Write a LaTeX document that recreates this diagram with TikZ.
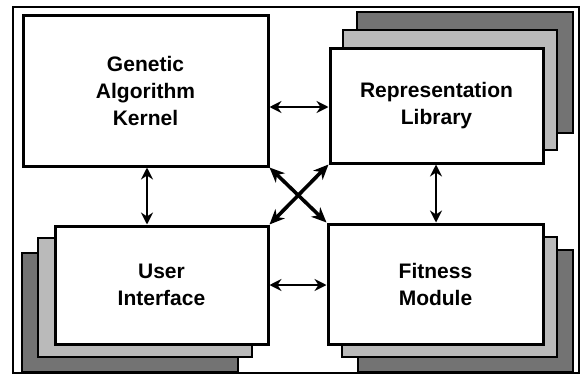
\documentclass[tikz,border=0pt]{standalone}
\usepackage{fontspec}
\setmainfont{Liberation Sans}
\usetikzlibrary{arrows.meta}
\begin{document}
\begin{tikzpicture}[x=1pt,y=-1pt,
  box/.style={draw, line width=3pt, fill=white, inner sep=0pt, align=center,
    font=\bfseries\fontsize{21}{27}\selectfont},
  lightshadow/.style={draw, line width=2.6pt, fill=black!27},
  darkshadow/.style={draw, line width=2.6pt, fill=black!55},
  arr/.style={{Stealth[length=12pt,width=12pt,inset=4pt]}-{Stealth[length=12pt,width=12pt,inset=4pt]}, line width=2.2pt},
  darr/.style={{Stealth[length=15pt,width=13pt,inset=4.5pt]}-{Stealth[length=15pt,width=13pt,inset=4.5pt]}, line width=3.6pt}]
\useasboundingbox (0,0) rectangle (581,375);
% outer frame
\draw[line width=2pt] (13,7) rectangle (579,373);
% shadows
\draw[darkshadow] (357,12) rectangle (573,133);
\draw[lightshadow] (343,30) rectangle (557,150);
\draw[darkshadow] (22,253) rectangle (238,372);
\draw[lightshadow] (38,238) rectangle (252,357);
\draw[darkshadow] (358,250) rectangle (573,372);
\draw[lightshadow] (342,237) rectangle (557,357);
% boxes
\node[box, minimum width=245pt, minimum height=151pt] (gak) at (145.5,90.5) {Genetic\\Algorithm\\Kernel};
\node[box, minimum width=213pt, minimum height=115pt] (rl) at (436.5,105.5) {Representation\\Library};
\node[box, minimum width=213pt, minimum height=118pt] (ui) at (161.5,285) {User\\Interface};
\node[box, minimum width=215pt, minimum height=120pt] (fm) at (435.5,284) {Fitness\\Module};
% connectors
\coordinate (ya) at (0,107);
\coordinate (yb) at (0,285);
\coordinate (xa) at (147,0);
\coordinate (xb) at (436,0);
\draw[arr] (gak.east |- ya) -- (rl.west |- ya);
\draw[arr] (ui.east |- yb) -- (fm.west |- yb);
\draw[arr] (xa |- gak.south) -- (xa |- ui.north);
\draw[arr] (xb |- rl.south) -- (xb |- fm.north);
\draw[darr] (gak.south east) -- (fm.north west);
\draw[darr] (rl.south west) -- (ui.north east);
\end{tikzpicture}
\end{document}
